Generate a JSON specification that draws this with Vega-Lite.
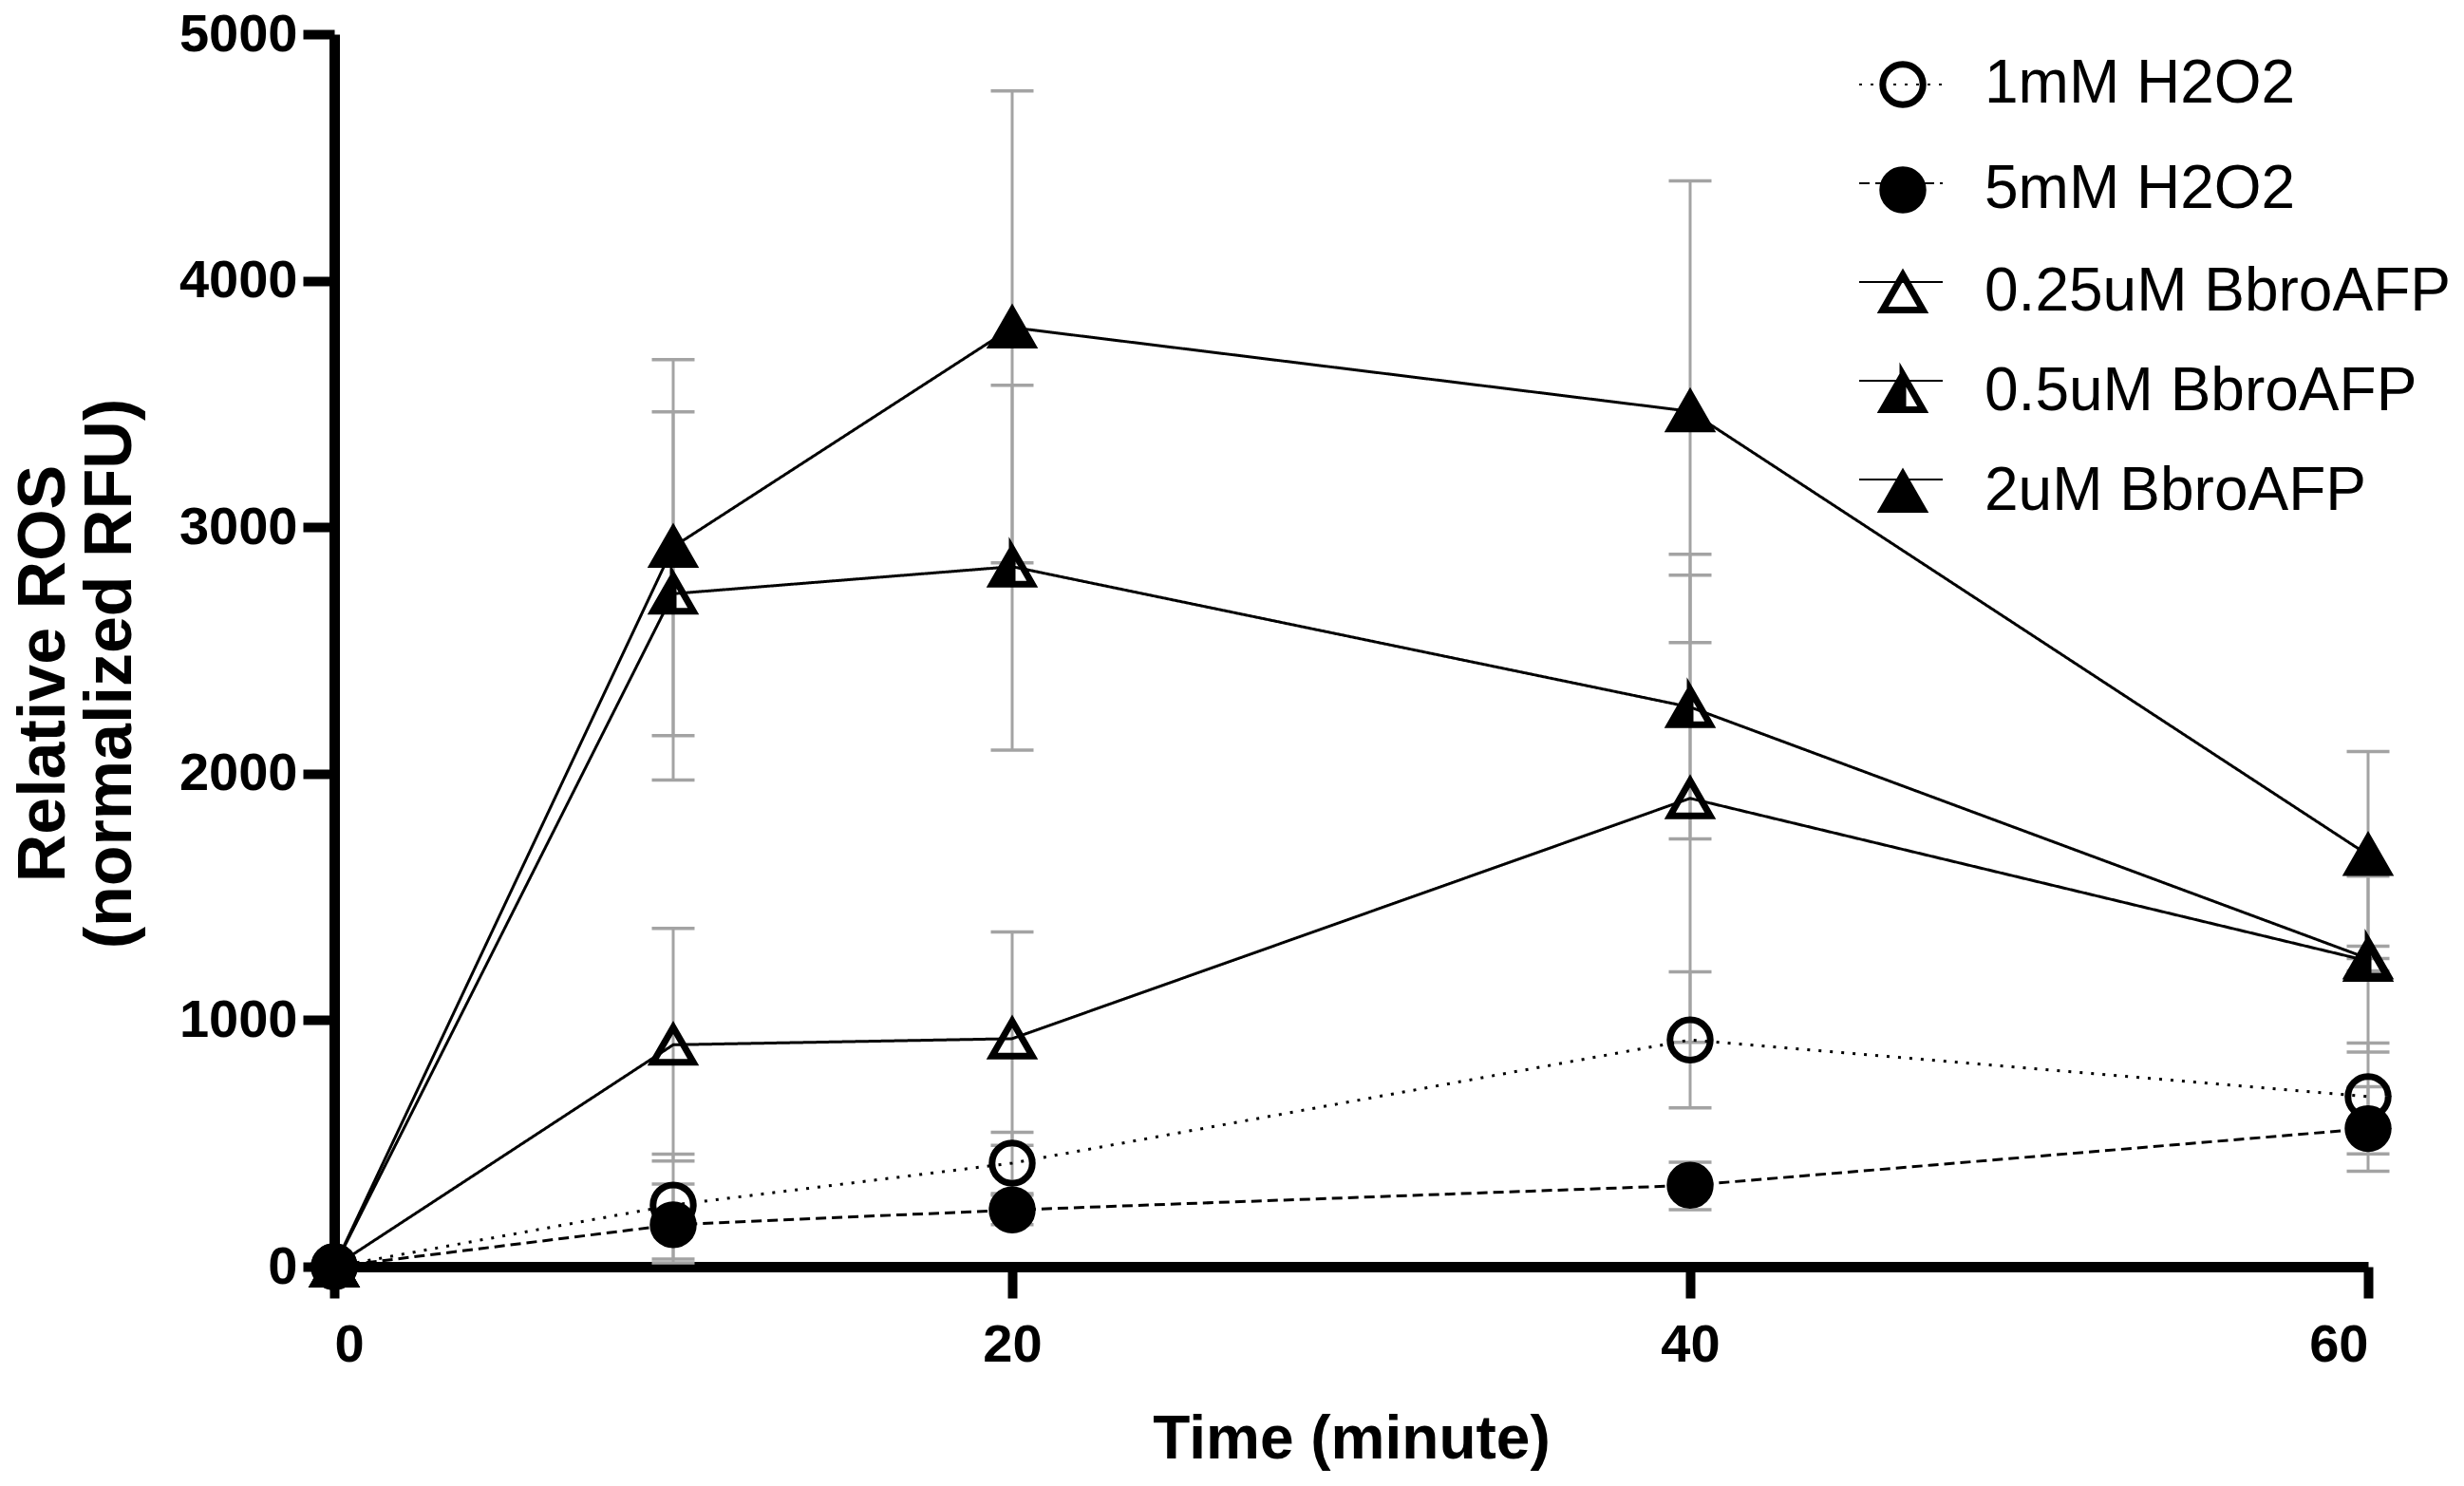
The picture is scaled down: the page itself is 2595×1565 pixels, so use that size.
{
  "$schema": "https://vega.github.io/schema/vega-lite/v6.json",
  "width": 2142,
  "height": 1298,
  "autosize": {"type": "none"},
  "padding": {"left": 352, "top": 36, "right": 101, "bottom": 231},
  "background": "white",
  "config": {
    "view": {"stroke": null},
    "font": "Liberation Sans",
    "axis": {
      "grid": false,
      "domainColor": "black",
      "domainWidth": 11,
      "tickColor": "black",
      "tickWidth": 10,
      "tickSize": 33,
      "labelFont": "Liberation Sans",
      "labelFontWeight": "bold",
      "labelFontSize": 56,
      "labelColor": "black",
      "titleFont": "Liberation Sans",
      "titleFontWeight": "bold",
      "titleFontSize": 64,
      "titleColor": "black"
    },
    "legend": {
      "labelFont": "Liberation Sans",
      "labelFontSize": 64,
      "labelColor": "black",
      "labelLimit": 0
    }
  },
  "data": {
    "values": [
      {"series": "1mM H2O2", "time": 0, "mean": 0, "lo": 0, "hi": 0},
      {"series": "1mM H2O2", "time": 10, "mean": 250, "lo": 31, "hi": 456},
      {"series": "1mM H2O2", "time": 20, "mean": 420, "lo": 297, "hi": 545},
      {"series": "1mM H2O2", "time": 40, "mean": 920, "lo": 644, "hi": 1196},
      {"series": "1mM H2O2", "time": 60, "mean": 690, "lo": 457, "hi": 907},
      {"series": "5mM H2O2", "time": 0, "mean": 0, "lo": 0, "hi": 0},
      {"series": "5mM H2O2", "time": 10, "mean": 170, "lo": 15, "hi": 335},
      {"series": "5mM H2O2", "time": 20, "mean": 230, "lo": 170, "hi": 290},
      {"series": "5mM H2O2", "time": 40, "mean": 330, "lo": 231, "hi": 424},
      {"series": "5mM H2O2", "time": 60, "mean": 560, "lo": 387, "hi": 730},
      {"series": "0.25uM BbroAFP", "time": 0, "mean": 0, "lo": 0, "hi": 0},
      {"series": "0.25uM BbroAFP", "time": 10, "mean": 900, "lo": 429, "hi": 1372},
      {"series": "0.25uM BbroAFP", "time": 20, "mean": 925, "lo": 492, "hi": 1358},
      {"series": "0.25uM BbroAFP", "time": 40, "mean": 1900, "lo": 910, "hi": 2890},
      {"series": "0.25uM BbroAFP", "time": 60, "mean": 1240, "lo": 871, "hi": 1584},
      {"series": "0.5uM BbroAFP", "time": 0, "mean": 0, "lo": 0, "hi": 0},
      {"series": "0.5uM BbroAFP", "time": 10, "mean": 2730, "lo": 1974, "hi": 3468},
      {"series": "0.5uM BbroAFP", "time": 20, "mean": 2840, "lo": 2096, "hi": 3576},
      {"series": "0.5uM BbroAFP", "time": 40, "mean": 2270, "lo": 1735, "hi": 2805},
      {"series": "0.5uM BbroAFP", "time": 60, "mean": 1250, "lo": 1200, "hi": 1300},
      {"series": "2uM BbroAFP", "time": 0, "mean": 0, "lo": 0, "hi": 0},
      {"series": "2uM BbroAFP", "time": 10, "mean": 2920, "lo": 2154, "hi": 3680},
      {"series": "2uM BbroAFP", "time": 20, "mean": 3810, "lo": 2855, "hi": 4770},
      {"series": "2uM BbroAFP", "time": 40, "mean": 3470, "lo": 2532, "hi": 4405},
      {"series": "2uM BbroAFP", "time": 60, "mean": 1670, "lo": 1250, "hi": 2090}
    ]
  },
  "encoding": {
    "x": {
      "field": "time",
      "type": "quantitative",
      "title": "Time (minute)",
      "scale": {"domain": [0, 60], "nice": false},
      "axis": {"values": [0, 20, 40, 60], "labelPadding": 22, "titlePadding": 40}
    }
  },
  "layer": [
    {
      "transform": [{"filter": "datum.time > 0"}],
      "mark": {"type": "rule", "color": "#a3a3a3", "strokeWidth": 3},
      "encoding": {
        "y": {
          "field": "lo",
          "type": "quantitative",
          "title": ["Relative ROS", "(normalized RFU)"],
          "scale": {"domain": [0, 5000], "nice": false},
          "axis": {"values": [0, 1000, 2000, 3000, 4000, 5000], "format": "d", "labelPadding": 6, "titlePadding": 32, "titleFontSize": 70, "titleLineHeight": 70, "titleX": -270, "titleY": 673}
        },
        "y2": {"field": "hi"}
      }
    },
    {
      "transform": [{"filter": "datum.time > 0"}],
      "mark": {"type": "tick", "orient": "horizontal", "color": "#a3a3a3", "size": 45, "thickness": 3.5, "opacity": 1},
      "encoding": {"y": {"field": "lo", "type": "quantitative"}}
    },
    {
      "transform": [{"filter": "datum.time > 0"}],
      "mark": {"type": "tick", "orient": "horizontal", "color": "#a3a3a3", "size": 45, "thickness": 3.5, "opacity": 1},
      "encoding": {"y": {"field": "hi", "type": "quantitative"}}
    },
    {
      "mark": {"type": "line", "stroke": "black", "strokeWidth": 3},
      "encoding": {
        "y": {"field": "mean", "type": "quantitative"},
        "strokeDash": {
          "field": "series",
          "type": "nominal",
          "sort": null,
          "scale": {"range": [[3, 9], [11, 6], [1, 0], [1, 0], [1, 0]]},
          "legend": {
            "title": null,
            "orient": "none",
            "legendX": 1605,
            "legendY": 8,
            "symbolType": "stroke",
            "symbolSize": 7744,
            "symbolStrokeWidth": 2,
            "symbolStrokeColor": "black",
            "labelExpr": "''",
            "labelOffset": 20,
            "rowPadding": 27
          }
        }
      }
    },
    {
      "mark": {"type": "point", "filled": false, "stroke": "black", "strokeWidth": 7, "size": 1800, "opacity": 1},
      "encoding": {
        "y": {"field": "mean", "type": "quantitative"},
        "shape": {
          "field": "series",
          "type": "nominal",
          "scale": {
            "domain": ["1mM H2O2", "5mM H2O2", "0.25uM BbroAFP", "0.5uM BbroAFP", "2uM BbroAFP"],
            "range": [
              "circle",
              "circle",
              "M0,-0.87L1,0.87L-1,0.87Z",
              "M0,-0.87L1,0.87L-1,0.87ZM0,-0.87L0,0.87L1,0.87Z",
              "M0,-0.87L1,0.87L-1,0.87Z"
            ]
          },
          "legend": {
            "title": null,
            "orient": "none",
            "legendX": 1620,
            "legendY": 21,
            "symbolSize": 1800,
            "symbolStrokeWidth": 7,
            "labelOffset": 54,
            "rowPadding": 39,
            "encode": {"symbols": {"stroke": {"value": "black"}, "strokeWidth": {"value": 7}}}
          }
        },
        "fill": {
          "field": "series",
          "type": "nominal",
          "scale": {
            "domain": ["1mM H2O2", "5mM H2O2", "0.25uM BbroAFP", "0.5uM BbroAFP", "2uM BbroAFP"],
            "range": ["transparent", "black", "transparent", "black", "black"]
          },
          "legend": {
            "title": null,
            "orient": "none",
            "legendX": 1620,
            "legendY": 21,
            "symbolSize": 1800,
            "symbolStrokeWidth": 7,
            "labelOffset": 54,
            "rowPadding": 39,
            "encode": {"symbols": {"stroke": {"value": "black"}, "strokeWidth": {"value": 7}}}
          }
        }
      }
    }
  ]
}
